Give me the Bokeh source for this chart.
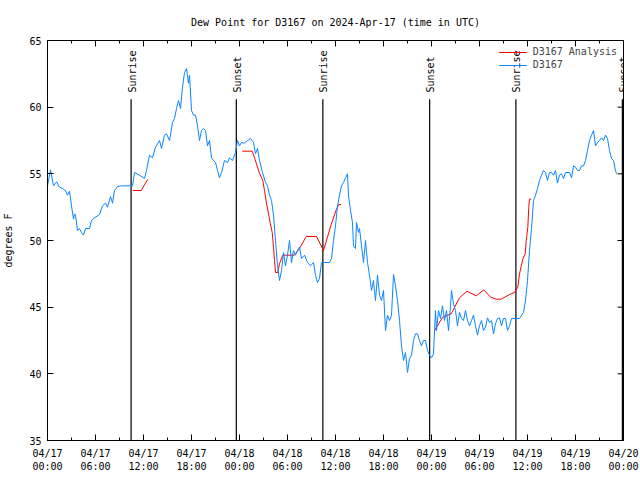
import math
from bokeh.plotting import figure
from bokeh.models import FixedTicker, Legend, LegendItem, ColumnDataSource
from bokeh.core.properties import value
from bokeh.embed import file_html
from bokeh.resources import INLINE

FONT = "DejaVu Sans Mono"

# ---- data (hours since 2024-04-17 00:00 UTC) ----
obs_hours = [0.0, 0.375, 0.75, 1.125, 1.5, 1.875, 2.25, 2.5, 2.75, 3.0, 3.25, 3.375, 3.5, 3.75, 4.0, 4.25, 4.5, 4.75,
             5.25, 5.5, 5.875, 6.5, 6.875, 7.25, 7.5, 7.875, 8.125, 8.375, 8.75, 9.25, 10.625, 10.875, 11.5, 12.125,
             12.375, 12.75, 13.125, 13.5, 14.0, 14.25, 14.625, 14.875, 15.25, 15.625, 15.875, 16.125, 16.375, 16.625,
             16.875, 17.125, 17.375, 17.625, 17.75, 18.0, 18.25, 18.5, 18.75, 19.0, 19.25, 19.5, 19.75, 20.0, 20.25,
             20.5, 20.75, 21.0, 21.25, 21.5, 21.75, 22.125, 22.5, 22.75, 23.125, 23.5, 23.75, 24.0, 24.25, 24.625,
             25.0, 25.375, 25.75, 26.0, 26.25, 26.5, 26.875, 27.25, 27.5, 27.75, 28.0, 28.25, 28.5, 28.75, 29.0,
             29.25, 29.5, 29.75, 30.0, 30.25, 30.5, 30.75, 31.0, 31.25, 31.5, 31.75, 32.125, 32.5, 32.875, 33.25,
             33.5, 33.75, 34.0, 34.25, 35.25, 35.5, 35.75, 36.0, 36.25, 36.5, 36.75, 37.0, 37.25, 37.5, 37.625,
             37.875, 38.125, 38.25, 38.5, 38.625, 38.875, 39.0, 39.25, 39.5, 39.75, 40.0, 40.25, 40.5, 40.75, 41.0,
             41.25, 41.5, 41.75, 42.0, 42.25, 42.5, 42.75, 43.0, 43.25, 43.5, 43.75, 44.0, 44.25, 44.5, 44.75, 45.0,
             45.25, 45.5, 45.75, 46.0, 46.25, 46.5, 46.75, 47.0, 47.25, 47.5, 47.75, 48.0, 48.25, 48.5, 48.625,
             48.875, 49.125, 49.375, 49.625, 49.875, 50.125, 50.375, 50.5, 50.75, 51.0, 51.25, 51.5, 51.75, 52.0,
             52.25, 52.5, 52.75, 53.0, 53.25, 53.5, 53.75, 54.0, 54.25, 54.5, 54.75, 55.0, 55.25, 55.5, 55.75, 56.0,
             56.25, 56.5, 56.75, 57.0, 57.25, 57.5, 57.75, 58.0, 59.0, 59.5, 59.75, 60.0, 60.25, 60.5, 60.75, 61.0,
             61.25, 61.5, 61.75, 62.0, 62.25, 62.5, 62.75, 63.0, 63.25, 63.5, 63.75, 64.0, 64.25, 64.5, 64.75, 65.25,
             65.5, 65.75, 66.0, 66.25, 66.5, 66.75, 67.0, 67.25, 67.5, 67.75, 68.0, 68.25, 68.5, 68.75, 69.0, 69.25,
             69.5, 69.75, 70.0, 70.25, 70.5, 70.75, 71.0, 71.125]
obs_dewpt = [54.1, 55.3, 54.1, 54.4, 54.0, 53.9, 53.75, 53.4, 53.7, 52.6, 51.6, 52.0, 51.9, 50.75, 50.9, 50.6, 50.4, 50.9,
             50.9, 51.5, 51.7, 51.95, 52.6, 52.8, 52.5, 53.3, 52.8, 53.75, 54.05, 54.1, 54.1, 55.1, 54.9, 54.65,
             55.25, 56.4, 56.2, 57.0, 57.5, 56.9, 57.9, 58.0, 57.5, 58.85, 59.15, 59.9, 60.5, 59.9,
             61.5, 62.6, 62.9, 61.8, 62.4, 59.75, 59.4, 59.4, 58.6, 57.5, 58.25, 58.4, 58.25, 57.1, 57.5,
             56.2, 56.0, 55.85, 55.25, 54.7, 55.1, 56.0, 55.85, 56.2, 56.0, 56.6, 57.5, 57.1, 57.35, 57.3,
             57.5, 57.65, 57.35, 56.5, 56.9, 56.0, 55.1, 54.35, 54.1, 53.4, 53.0, 51.9, 50.0, 48.1, 47.0,
             47.75, 49.1, 48.1, 48.9, 50.0, 48.35, 49.25, 48.9, 49.25, 49.5, 48.65, 48.9, 48.35, 48.1, 48.35,
             47.4, 46.85, 47.15, 48.35, 48.35, 48.65, 50.0, 51.1, 52.6, 53.4, 54.1, 54.35, 54.7, 55.0, 53.4,
             52.25, 51.35, 49.6, 49.4, 51.35, 50.6, 50.9, 49.6, 48.35, 50.0, 48.35, 47.4, 46.25, 47.0, 45.5,
             47.4, 45.9, 45.5, 46.25, 43.25, 44.4, 44.0, 44.4, 47.45, 46.6, 45.5, 44.0, 42.1, 41.0, 41.6, 40.1,
             41.15, 41.4, 42.5, 43.0, 43.0, 42.5, 42.1, 42.5, 42.5, 41.75, 41.4, 41.2, 41.5, 44.75, 43.25,
             44.75, 44.15, 45.1, 44.0, 44.75, 43.25, 45.1, 46.25, 45.25, 44.75, 43.6, 44.6, 44.15, 44.0,
             44.75, 44.0, 43.6, 44.0, 44.4, 43.6, 42.9, 43.6, 44.0, 43.25, 43.5, 44.2, 43.85, 44.0, 43.0, 43.75,
             44.15, 44.2, 43.6, 44.15, 44.15, 43.25, 43.6, 44.15, 44.15, 44.6, 45.5, 47.0, 49.25, 50.9, 53.0, 53.4,
             53.9, 54.5, 54.9, 55.25, 55.1, 54.5, 55.1, 55.1, 54.9, 55.25, 54.3, 54.9, 55.0, 54.65, 55.1, 55.1,
             54.7, 55.6, 55.5, 55.25, 55.25, 55.6, 55.6, 56.0, 56.75, 57.5, 57.9, 58.25, 57.1, 57.35, 57.5, 57.7,
             57.5, 57.9, 57.65, 56.75, 56.15, 56.0, 55.25, 55.0]

nan = float("nan")
ana_hours = [10.66, 11.71, 12.54, nan,
             24.34, 25.59, 25.88, 26.5, 26.91, 27.13, 27.34, 27.66, 27.84, 28.09, 28.25, 28.38, 28.5, 28.79, 29.0,
             29.41, 30.88, 31.5, 32.34, 33.63, 34.5, 35.46, 36.09, 36.41, 36.71, nan,
             48.38, 49.41, 50.46, 51.5, 52.41, 53.59, 54.54, 55.38, 56.09, 56.71, 57.75, 58.38, 58.79, 59.0, 59.41,
             59.71, 59.84, 60.04, 60.16, 60.25, 60.46]
ana_dewpt = [53.75, 53.75, 54.6, nan,
             56.7, 56.7, 56.2, 55.05, 54.5, 53.75, 52.9, 51.9, 51.3, 50.6, 49.5, 48.5, 47.6, 47.6, 48.25,
             48.9, 48.9, 49.4, 50.3, 50.3, 49.25, 51.2, 52.3, 52.7, 52.7, nan,
             43.25, 44.25, 44.5, 45.7, 46.2, 45.85, 46.3, 45.75, 45.6, 45.6, 45.95, 46.1, 46.5, 47.5, 48.6,
             49.0, 50.0, 51.0, 52.5, 53.1, 53.1]

sun_hours = [10.45, 23.6, 34.42, 47.77, 58.55, 71.86]
sun_labels = ["Sunrise", "Sunset", "Sunrise", "Sunset", "Sunrise", "Sunset"]
sun_line_top = 60.6
sun_label_y = 61.1

tick_hours = [0, 6, 12, 18, 24, 30, 36, 42, 48, 54, 60, 66, 72]
tick_labels = ["04/17\n00:00", "04/17\n06:00", "04/17\n12:00", "04/17\n18:00",
               "04/18\n00:00", "04/18\n06:00", "04/18\n12:00", "04/18\n18:00",
               "04/19\n00:00", "04/19\n06:00", "04/19\n12:00", "04/19\n18:00", "04/20\n00:00"]
minor_hours = [3, 9, 15, 21, 27, 33, 39, 45, 51, 57, 63, 69]
y_ticks = [35, 40, 45, 50, 55, 60, 65]

X0, X1, Y0, Y1 = 0, 72, 35, 65
FW, FH = 576, 400

p = figure(width=640, height=480, output_backend="svg", toolbar_location=None,
           x_range=(X0, X1), y_range=(Y0, Y1),
           title="Dew Point for D3167 on 2024-Apr-17 (time in UTC)",
           min_border_left=47, min_border_top=40, min_border_right=17, min_border_bottom=40)
p.title.align = "center"
p.title.text_font = FONT
p.title.text_font_size = "10px"
p.title.text_font_style = "normal"
p.title.text_color = "black"
p.title.offset = 0
p.title.standoff = 26
p.grid.visible = False
p.outline_line_color = "black"
p.background_fill_color = "white"
p.border_fill_color = "white"

xt = FixedTicker(ticks=tick_hours, minor_ticks=minor_hours)
yt = FixedTicker(ticks=y_ticks, minor_ticks=[])

xa = p.xaxis[0]
xa.ticker = xt
xa.major_label_overrides = {t: l for t, l in zip(tick_hours, tick_labels)}
ya = p.yaxis[0]
ya.ticker = yt
ya.axis_label = "degrees F"
ya.axis_label_text_font_style = "normal"
ya.axis_label_text_font = FONT
ya.axis_label_text_font_size = "10px"
ya.axis_label_text_color = "black"
ya.axis_label_standoff = 12

for ax in [xa, ya]:
    ax.major_label_text_font = FONT
    ax.major_label_text_font_size = "10px"
    ax.major_label_text_color = "black"
    ax.major_tick_in = 6
    ax.major_tick_out = 0
    ax.minor_tick_in = 3
    ax.minor_tick_out = 0
    ax.axis_line_color = "black"
xa.major_label_standoff = 7
ya.major_label_standoff = 6

# mirrored ticks on the top and right edges (gnuplot style), built from the tick arrays
mx = 6 * (X1 - X0) / FW
my = 6 * (Y1 - Y0) / FH
top_x = tick_hours + minor_hours
top_len = [my] * len(tick_hours) + [my / 2] * len(minor_hours)
p.segment(x0=top_x, y0=[Y1] * len(top_x), x1=top_x, y1=[Y1 - l for l in top_len], line_color="black", line_width=1)
p.segment(x0=[X1] * len(y_ticks), y0=y_ticks, x1=[X1 - mx] * len(y_ticks), y1=y_ticks, line_color="black", line_width=1)

# sunrise / sunset markers
sun_src = ColumnDataSource(dict(x=sun_hours, y0=[Y0] * len(sun_hours), y1=[sun_line_top] * len(sun_hours),
                                ly=[sun_label_y] * len(sun_hours), label=sun_labels))
p.segment(x0="x", y0="y0", x1="x", y1="y1", source=sun_src, line_color="black", line_width=1.2)
p.text(x="x", y="ly", text="label", source=sun_src, angle=math.pi / 2, text_align="left",
       text_baseline="middle", text_font=value(FONT), text_font_size="10px", text_color="black", x_offset=1)

r_ana = p.line(ana_hours, ana_dewpt, line_color="#ff0000", line_width=1)
r_obs = p.line(obs_hours, obs_dewpt, line_color="#0a84ff", line_width=1)

legend = Legend(items=[LegendItem(label="D3167 Analysis", renderers=[r_ana]),
                       LegendItem(label="D3167", renderers=[r_obs])],
                location="top_right", background_fill_alpha=0, border_line_alpha=0,
                label_text_font=FONT, label_text_font_size="10px", glyph_width=28, glyph_height=10,
                label_height=10, spacing=2, padding=4, margin=2, label_standoff=6)
p.add_layout(legend)

open("out.html", "w").write(file_html(p, INLINE))
